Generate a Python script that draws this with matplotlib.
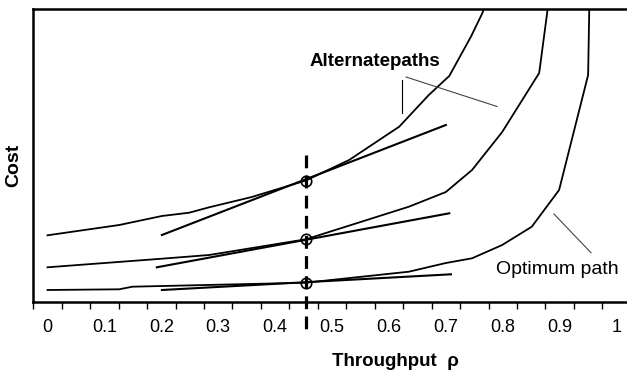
import matplotlib
matplotlib.use("Agg")
import matplotlib.pyplot as plt
import numpy as np

# cost curves (arbitrary cost units)
rho_alt1 = [0.0, 0.126, 0.201, 0.249, 0.284, 0.359, 0.454, 0.530, 0.618, 0.670, 0.706, 0.744, 0.764, 0.776]
cost_alt1 = [66.7, 77.0, 86.0, 89.3, 94.7, 105.0, 121.5, 142.0, 175.3, 207.0, 226.0, 265.3, 288.7, 307.0]

rho_alt2 = [0.0, 0.201, 0.284, 0.454, 0.635, 0.700, 0.746, 0.799, 0.864, 0.878, 0.881]
cost_alt2 = [34.7, 43.3, 47.0, 62.7, 95.3, 110.0, 132.0, 170.0, 229.0, 289.0, 307.0]

rho_opt = [0.0, 0.126, 0.149, 0.454, 0.635, 0.700, 0.746, 0.799, 0.851, 0.899, 0.950, 0.952, 0.952]
cost_opt = [12.0, 12.7, 15.3, 19.3, 30.3, 39.0, 43.7, 57.0, 75.3, 112.0, 227.0, 292.7, 307.0]

# tangent lines (start / end)
tan_rho = [[0.201, 0.700], [0.192, 0.706], [0.201, 0.709]]
tan_cost = [[67.0, 177.0], [34.7, 88.7], [12.0, 27.7]]

# operating point
rho_op = 0.454
cost_op = [121.5, 62.7, 19.3]

xtick_vals = [0, 0.1, 0.2, 0.3, 0.4, 0.5, 0.6, 0.7, 0.8, 0.9, 1]
xtick_labels = ['0', '0.1', '0.2', '0.3', '0.4', '0.5', '0.6', '0.7', '0.8', '0.9', '1']

plt.rcParams['font.family'] = ['Liberation Sans', 'DejaVu Sans']

W, H = 627, 371
fig = plt.figure(figsize=(W / 100, H / 100), dpi=100)
ax = fig.add_axes([33.3 / W, 69 / H, 597.5 / W, 292.7 / H])

ax.plot(rho_alt1, cost_alt1, color='black', lw=1.3)
ax.plot(rho_alt2, cost_alt2, color='black', lw=1.3)
ax.plot(rho_opt, cost_opt, color='black', lw=1.3)
for r, c in zip(tan_rho, tan_cost):
    ax.plot(r, c, color='black', lw=1.5)

ax.plot([rho_op, rho_op], [147, -34], color='black', lw=2.3,
        dashes=(4, 2.3), clip_on=False)
ax.plot([rho_op] * 3, cost_op, 'o', ms=7.5, mfc='none', mec='black', mew=1.2)

ax.set_xlim(-0.025, 1.025)
ax.set_ylim(0, 292.7)

ax.set_xticks(xtick_vals)
ax.set_xticklabels(xtick_labels, fontsize=13)
ax.set_xticks(np.arange(-0.025, 1.03, 0.05), minor=True)
ax.tick_params(axis='x', which='major', length=0, pad=12)
ax.tick_params(axis='x', which='minor', length=5, width=1, direction='out')
ax.set_yticks([])

for s in ['left', 'top', 'bottom']:
    ax.spines[s].set_linewidth(1.8)
ax.spines['right'].set_visible(False)

# annotations
ax.text(0.575, 240, 'Alternatepaths', ha='center', va='center',
        fontsize=13.5, fontweight='bold')
ax.plot([0.6236, 0.6236], [222, 188.7], color='black', lw=0.8)
ax.plot([0.630, 0.790], [225, 195.5], color='#444444', lw=0.8)
ax.text(0.895, 32, 'Optimum path', ha='center', va='center', fontsize=14)
ax.plot([0.890, 0.955], [88, 49.3], color='#444444', lw=0.8)

fig.text(14 / W, 1 - 165 / H, 'Cost', rotation=90, ha='center', va='center',
         fontsize=14, fontweight='bold')
fig.text(395 / W, 1 - 361 / H, 'Throughput  ρ', ha='center', va='center',
         fontsize=13.5, fontweight='bold')

fig.savefig('out.png', dpi=100)
